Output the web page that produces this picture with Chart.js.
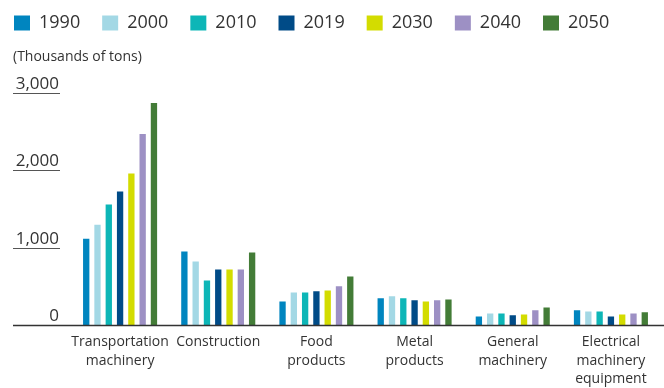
<!DOCTYPE html>
<html>
<head>
<meta charset="utf-8">
<title>Demand by industry</title>
<script src="https://cdn.jsdelivr.net/npm/chart.js@4/dist/chart.umd.min.js"></script>
<style>
    html, body { margin: 0; padding: 0; background: #fff; }
    #wrap { width: 664px; height: 388px; }
</style>
</head>
<body>
<div id="wrap"><canvas id="industryChart" width="664" height="388"></canvas></div>
<script>
// thousands of tons, by industry
const categories = [
    ['Transportation', 'machinery'],
    ['Construction'],
    ['Food', 'products'],
    ['Metal', 'products'],
    ['General', 'machinery'],
    ['Electrical', 'machinery', 'equipment']
];
const years = ['1990', '2000', '2010', '2019', '2030', '2040', '2050'];
const y1990 = [1120, 955, 310, 350, 115, 195];
const y2000 = [1300, 825, 425, 375, 155, 180];
const y2010 = [1560, 580, 425, 350, 155, 180];
const y2019 = [1730, 720, 440, 325, 130, 115];
const y2030 = [1960, 720, 450, 310, 140, 140];
const y2040 = [2470, 720, 505, 325, 195, 155];
const y2050 = [2870, 940, 630, 335, 230, 170];
const yTicks = [0, 1000, 2000, 3000];

const seriesValues = [y1990, y2000, y2010, y2019, y2030, y2040, y2050];
const seriesColors = ['#0085bf', '#a3d8e5', '#0db6b7', '#004b87', '#d3dc00', '#9d90c4', '#437c37'];

Chart.defaults.font.family = "'Open Sans', sans-serif";
Chart.defaults.color = '#333';

// short rules under the y labels and the long baseline at zero
const axisRules = {
    id: 'axisRules',
    afterLayout(chart) {
        // pull the legend rows up and to the left edge
        chart.legend.left -= 21;
        chart.legend.top -= 8;
    },
    afterDatasetsDraw(chart) {
        const ctx = chart.ctx;
        const y = chart.scales.y;
        ctx.save();
        yTicks.forEach(v => {
            const py = Math.round(y.getPixelForValue(v)) + 0.5;
            ctx.beginPath();
            if (v === 0) {
                ctx.strokeStyle = '#333';
                ctx.lineWidth = 1.6;
                ctx.moveTo(13, py);
                ctx.lineTo(chart.width, py);
            } else {
                ctx.strokeStyle = '#555';
                ctx.lineWidth = 1;
                ctx.moveTo(13, py);
                ctx.lineTo(60, py);
            }
            ctx.stroke();
        });
        ctx.restore();
    }
};

function createChart() {
    const ctx = document.getElementById('industryChart');
    new Chart(ctx, {
        type: 'bar',
        data: {
            labels: categories,
            datasets: years.map((yr, i) => ({
                label: yr,
                data: seriesValues[i],
                backgroundColor: seriesColors[i],
                borderWidth: 0,
                categoryPercentage: 0.805,
                barPercentage: 0.56
            }))
        },
        options: {
            responsive: false,
            animation: false,
            layout: {
                padding: { left: 13, right: 4, top: 0, bottom: -8 }
            },
            plugins: {
                legend: {
                    position: 'top',
                    align: 'start',
                    labels: {
                        boxWidth: 16,
                        boxHeight: 15,
                        padding: 22,
                        color: '#333',
                        font: { size: 18 }
                    }
                },
                title: {
                    display: true,
                    text: '(Thousands of tons)',
                    align: 'start',
                    weight: 500,
                    color: '#333',
                    font: { size: 14, weight: 'normal', lineHeight: 1 },
                    padding: { top: 0, bottom: 29 }
                },
                tooltip: { enabled: false }
            },
            scales: {
                x: {
                    grid: { display: false, drawTicks: false },
                    border: { display: false },
                    ticks: {
                        autoSkip: false,
                        maxRotation: 0,
                        padding: 8,
                        color: '#333',
                        font: { size: 14, lineHeight: 1.3 }
                    }
                },
                y: {
                    min: 0,
                    max: 3000,
                    grid: { display: false, drawTicks: false },
                    border: { display: false },
                    afterBuildTicks: scale => {
                        scale.ticks = yTicks.map(v => ({ value: v }));
                    },
                    afterFit: scale => {
                        scale.width = 58;
                    },
                    ticks: {
                        padding: 12,
                        labelOffset: -9,
                        color: '#333',
                        font: { size: 17 }
                    }
                }
            }
        },
        plugins: [axisRules]
    });
}

window.addEventListener('DOMContentLoaded', () => {
    createChart();
});
</script>
</body>
</html>
